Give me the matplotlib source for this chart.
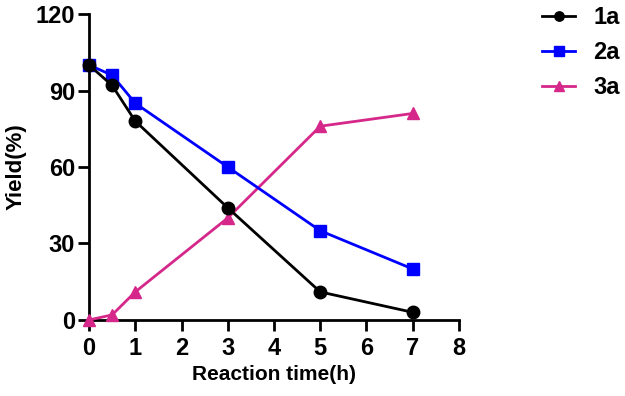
import matplotlib.pyplot as plt

time_h = [0, 0.5, 1, 3, 5, 7]
yield_1a = [100, 92, 78, 44, 11, 3]
yield_2a = [100, 96, 85, 60, 35, 20]
yield_3a = [0, 2, 11, 40, 76, 81]

plt.rcParams['font.family'] = ['Liberation Sans', 'DejaVu Sans']
plt.rcParams['font.weight'] = 'bold'

fig = plt.figure(figsize=(6.25, 3.96), dpi=100)
ax = fig.add_axes([0.1424, 0.192, 0.592, 0.7726])

ax.plot(time_h, yield_1a, '-o', color='black', lw=2, ms=9, label='1a', clip_on=False, zorder=5)
ax.plot(time_h, yield_2a, '-s', color='#0000FF', lw=2, ms=9, label='2a', clip_on=False, zorder=4)
ax.plot(time_h, yield_3a, '-^', color='#D6288A', lw=2, ms=9, label='3a', clip_on=False, zorder=3)

ax.set_xlim(0, 8)
ax.set_ylim(0, 120)
ax.set_xticks(range(0, 9))
ax.set_yticks([0, 30, 60, 90, 120])
for s in ['top', 'right']:
    ax.spines[s].set_visible(False)
for s in ['left', 'bottom']:
    ax.spines[s].set_linewidth(2)
ax.tick_params(width=2, length=8, labelsize=17)
ax.tick_params(axis='y', pad=2)
ax.tick_params(axis='x', pad=4)
ax.set_xlabel('Reaction time(h)', fontsize=15, fontweight='bold', labelpad=4)
ax.set_ylabel('Yield(%)', fontsize=16, fontweight='bold')
ax.yaxis.set_label_coords(-0.17, 0.5)

leg = ax.legend(loc='upper left', bbox_to_anchor=(1.168, 1.095), frameon=False,
                fontsize=17, handlelength=1.4, handletextpad=0.75,
                markerscale=0.75, labelspacing=0.5)

fig.savefig('out.png', dpi=100)
